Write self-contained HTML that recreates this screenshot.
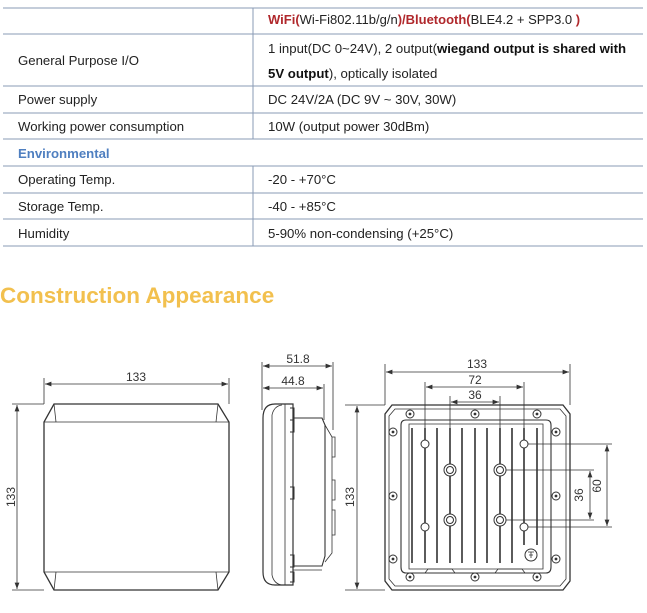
<!DOCTYPE html>
<html><head><meta charset="utf-8"><style>
body{margin:0;width:647px;height:613px;background:#fff;overflow:hidden;position:relative;font-family:"Liberation Sans",sans-serif;}
.t{position:absolute;font-size:13.2px;color:#222;white-space:nowrap;}
.h{position:absolute;left:0;top:283px;font-size:22.5px;font-weight:bold;color:#f2c04e;}
</style></head><body>
<svg width="647" height="260" style="position:absolute;left:0;top:0">
<g stroke="#8a9bb5" stroke-width="1">
<line x1="3" y1="8" x2="643" y2="8"/><line x1="3" y1="34" x2="643" y2="34"/>
<line x1="3" y1="86" x2="643" y2="86"/><line x1="3" y1="113" x2="643" y2="113"/>
<line x1="3" y1="139" x2="643" y2="139"/><line x1="3" y1="166" x2="643" y2="166"/>
<line x1="3" y1="193" x2="643" y2="193"/><line x1="3" y1="219" x2="643" y2="219"/>
<line x1="3" y1="246" x2="643" y2="246"/>
<line x1="253" y1="8" x2="253" y2="139"/><line x1="253" y1="166" x2="253" y2="246"/>
</g></svg>
<div class="t" style="left:268px;top:12px;font-size:13px"><b style="color:#b0282c">WiFi(</b>Wi-Fi802.11b/g/n<b style="color:#b0282c">)/Bluetooth(</b>BLE4.2 + SPP3.0 <b style="color:#b0282c">)</b></div>
<div class="t" style="left:18px;top:53px">General Purpose I/O</div>
<div class="t" style="left:268px;top:41px">1 input(DC 0~24V), 2 output(<b style="color:#111">wiegand output is shared with</b></div>
<div class="t" style="left:268px;top:66px"><b style="color:#111">5V output</b>), optically isolated</div>
<div class="t" style="left:18px;top:92px">Power supply</div>
<div class="t" style="left:268px;top:92px">DC 24V/2A (DC 9V ~ 30V, 30W)</div>
<div class="t" style="left:18px;top:119px">Working power consumption</div>
<div class="t" style="left:268px;top:119px">10W (output power 30dBm)</div>
<div class="t" style="left:18px;top:146px;color:#4f7fc0;font-weight:bold">Environmental</div>
<div class="t" style="left:18px;top:172px">Operating Temp.</div>
<div class="t" style="left:268px;top:172px">-20 - +70°C</div>
<div class="t" style="left:18px;top:199px">Storage Temp.</div>
<div class="t" style="left:268px;top:199px">-40 - +85°C</div>
<div class="t" style="left:18px;top:226px">Humidity</div>
<div class="t" style="left:268px;top:226px">5-90% non-condensing (+25°C)</div>
<div class="h">Construction Appearance</div>
<svg width="647" height="613" style="position:absolute;left:0;top:0" font-family="Liberation Sans" font-size="12" fill="none" stroke="#333" stroke-width="0.8">
<defs><marker id="a" markerWidth="8" markerHeight="6" refX="8" refY="3" orient="auto-start-reverse"><path d="M0,0L8,3L0,6z" fill="#333" stroke="none"/></marker></defs>
<path d="M54,404H218L229,422V572L218,590H54L44,572V422Z" stroke-width="1.3"/>
<path d="M44,422H229M44,572H229M54,404L56,422M218,404L216,422M56,572L54,590M216,572L218,590"/>
<path d="M44,378V404M229,378V404M12,404H44M12,590H44"/>
<line x1="45" y1="384" x2="228" y2="384" marker-start="url(#a)" marker-end="url(#a)"/>
<line x1="17" y1="405" x2="17" y2="589" marker-start="url(#a)" marker-end="url(#a)"/>
<text x="136" y="381" fill="#333" stroke="none" text-anchor="middle">133</text>
<text transform="translate(15,497) rotate(-90)" fill="#333" stroke="none" text-anchor="middle">133</text>
<path d="M262,362V410M333,362V430M324,384V420"/>
<line x1="263" y1="366" x2="332" y2="366" marker-start="url(#a)" marker-end="url(#a)"/>
<line x1="263" y1="388" x2="323" y2="388" marker-start="url(#a)" marker-end="url(#a)"/>
<text x="298" y="363" fill="#333" stroke="none" text-anchor="middle">51.8</text>
<text x="293" y="385" fill="#333" stroke="none" text-anchor="middle">44.8</text>
<path d="M293,404H275Q263,404 263,418V572Q263,585 275,585H293Z" stroke-width="1.2"/>
<path d="M272,415V575M272,415Q274,406 282,405M272,575Q274,584 282,585M285,404V585"/>
<path d="M293,418H322L325,425V556L322,566H293" stroke-width="1.1"/>
<path d="M325,425L332,437V553L325,562"/>
<path d="M332,437h3v20h-3M332,480h3v20h-3M332,510h3v25h-3"/>
<path d="M290,408h4v12h-4M290,420h4v12h-4M290,487h4v12h-4M290,555h4v12h-4M290,572h4v10h-4" stroke-width="1"/>
<line x1="293" y1="570" x2="322" y2="570"/>
<path d="M385,364V405M570,364V405M425,382V445M524,382V445M450,396V470M500,396V470M345,405H385M345,590H385"/>
<line x1="386" y1="372" x2="569" y2="372" marker-start="url(#a)" marker-end="url(#a)"/>
<line x1="426" y1="387" x2="523" y2="387" marker-start="url(#a)" marker-end="url(#a)"/>
<line x1="451" y1="402" x2="499" y2="402" marker-start="url(#a)" marker-end="url(#a)"/>
<line x1="357" y1="406" x2="357" y2="589" marker-start="url(#a)" marker-end="url(#a)"/>
<text x="477" y="368" fill="#333" stroke="none" text-anchor="middle">133</text>
<text x="475" y="384" fill="#333" stroke="none" text-anchor="middle">72</text>
<text x="475" y="399" fill="#333" stroke="none" text-anchor="middle">36</text>
<text transform="translate(354,497) rotate(-90)" fill="#333" stroke="none" text-anchor="middle">133</text>
<path d="M500,470H594M500,520H594M524,444H612M524,527H612"/>
<line x1="590" y1="471" x2="590" y2="519" marker-start="url(#a)" marker-end="url(#a)"/>
<line x1="607" y1="445" x2="607" y2="526" marker-start="url(#a)" marker-end="url(#a)"/>
<text transform="translate(583,495) rotate(-90)" fill="#333" stroke="none" text-anchor="middle">36</text>
<text transform="translate(601,486) rotate(-90)" fill="#333" stroke="none" text-anchor="middle">60</text>
<path d="M392,405H563L570,414V581L563,590H392L385,581V414Z" stroke-width="1.3"/>
<path d="M395,409H560L566,416V579L560,586H395L389,579V416Z"/>
<path d="M406,420H546Q551,420 551,425V567Q551,573 546,573H406Q401,573 401,567V425Q401,420 406,420Z" stroke-width="1.1"/>
<path d="M409,424H543V569H409Z"/>
<g stroke-width="1.6">
<path d="M412,428V563M425,428V563M437,428V563M450,428V563M462,428V563M475,428V563M487,428V563M500,428V563M512,428V563M524,428V545M537,428V545"/>
</g>
<g fill="#fff" stroke-width="1">
<circle cx="425" cy="444" r="4"/><circle cx="524" cy="444" r="4"/><circle cx="425" cy="527" r="4"/><circle cx="524" cy="527" r="4"/>
<circle cx="450" cy="470" r="6"/><circle cx="500" cy="470" r="6"/><circle cx="450" cy="520" r="6"/><circle cx="500" cy="520" r="6"/>
<circle cx="450" cy="470" r="3.5"/><circle cx="500" cy="470" r="3.5"/><circle cx="450" cy="520" r="3.5"/><circle cx="500" cy="520" r="3.5"/>
<circle cx="531" cy="555" r="6"/>
<circle cx="410" cy="414" r="4"/><circle cx="475" cy="414" r="4"/><circle cx="537" cy="414" r="4"/>
<circle cx="410" cy="577" r="4"/><circle cx="475" cy="577" r="4"/><circle cx="537" cy="577" r="4"/>
<circle cx="393" cy="432" r="4"/><circle cx="393" cy="496" r="4"/><circle cx="393" cy="559" r="4"/>
<circle cx="556" cy="432" r="4"/><circle cx="556" cy="496" r="4"/><circle cx="556" cy="559" r="4"/>
</g>
<g fill="#333" stroke="none">
<circle cx="410" cy="414" r="1.4"/><circle cx="475" cy="414" r="1.4"/><circle cx="537" cy="414" r="1.4"/>
<circle cx="410" cy="577" r="1.4"/><circle cx="475" cy="577" r="1.4"/><circle cx="537" cy="577" r="1.4"/>
<circle cx="393" cy="432" r="1.4"/><circle cx="393" cy="496" r="1.4"/><circle cx="393" cy="559" r="1.4"/>
<circle cx="556" cy="432" r="1.4"/><circle cx="556" cy="496" r="1.4"/><circle cx="556" cy="559" r="1.4"/>
</g>
<path d="M528,552h6M529,555h4M531,552v6"/>
<path d="M425,573L428,569H452L455,573M495,573L498,569H522L525,573"/>
</svg>
</body></html>
